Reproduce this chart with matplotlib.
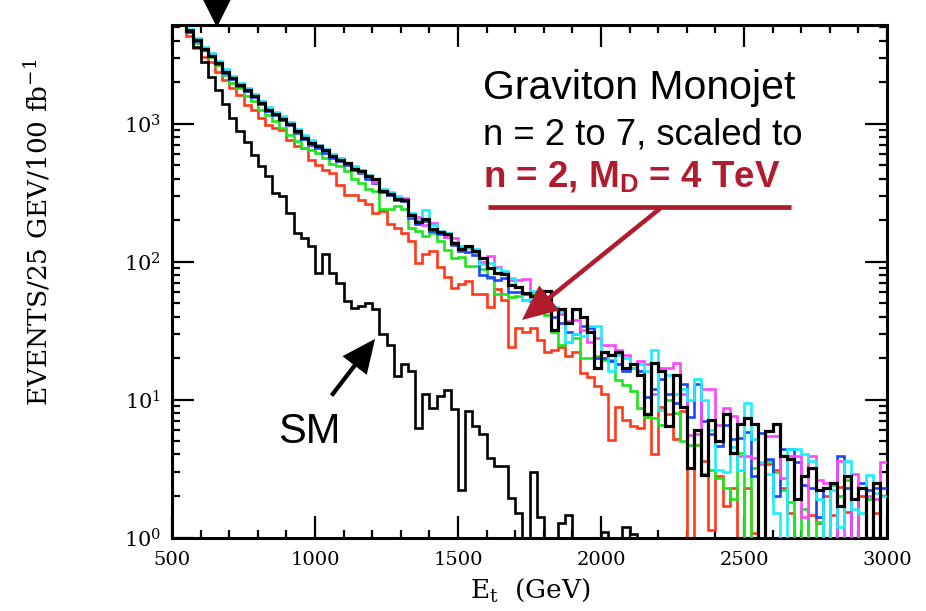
import numpy as np
import matplotlib
matplotlib.use('Agg')
import matplotlib.pyplot as plt
from matplotlib.patches import FancyArrowPatch, ArrowStyle
from matplotlib.ticker import FixedLocator, MultipleLocator, LogLocator, NullFormatter

plt.rcParams['font.family'] = 'DejaVu Serif'
plt.rcParams['mathtext.fontset'] = 'dejavuserif'

# 25 GeV bins from 500 to 3000 GeV
bin_lo = 500
bin_w = 25
n_bins = 100

x_ticks = [500, 1000, 1500, 2000, 2500, 3000]
y_ticks = [1, 10, 100, 1000]
y_ticklabels = [r'$\mathregular{10^{0}}$', r'$\mathregular{10^{1}}$',
                r'$\mathregular{10^{2}}$', r'$\mathregular{10^{3}}$']

# graviton monojet, n = 2..7 scaled to n=2, MD=4 TeV (events / 25 GeV / 100 fb-1)
gr_black = [6800, 5600, 4700, 4050, 3480, 3120, 2750, 2390, 2140, 1910,
            1760, 1580, 1410, 1260, 1175, 1087, 995, 881, 788, 725,
            686, 640, 582, 545, 515, 472, 452, 416, 395, 325,
            310, 285, 282, 217, 194, 205, 172, 164, 160, 137,
            123, 129, 119, 107, 90, 83, 82, 68, 66, 59,
            56, 54, 61, 32, 45, 36, 45, 40, 31, 17,
            22, 21, 22, 17, 18, 15, 7.8, 18.4, 16, 6.4,
            15, 8.9, 3.2, 6.0, 2.85, 7.1, 5.0, 7.8, 4.1, 6.7,
            7.3, 6.6, 0, 5.9, 6.7, 3.9, 3.7, 1.9, 2.8, 3.2,
            2.2, 2.3, 2.5, 1.7, 2.8, 1.9, 2.3, 0, 2.5, 0]

gr_cyan = [7000, 5800, 4850, 4200, 3600, 3250, 2850, 2500, 2230, 1990,
           1830, 1640, 1470, 1320, 1220, 1130, 1030, 920, 830, 760,
           700, 655, 600, 560, 520, 490, 462, 425, 398, 335,
           320, 300, 282, 226, 200, 238, 185, 168, 162, 140,
           130, 128, 123, 96, 98, 90, 85, 76, 65, 53,
           61, 53, 50, 47, 44, 26, 30, 29, 34, 34,
           22, 16, 21, 20, 17, 18, 16, 23, 8.4, 15,
           11, 12, 10, 14, 10, 6.0, 3.1, 3.0, 4.5, 3.1,
           9.4, 5.2, 3.5, 2.9, 1.5, 0, 4.4, 4.4, 4.0, 3.6,
           1.9, 0, 2.2, 1.2, 3.6, 1.6, 1.5, 2.85, 2.1, 2.0]

gr_magenta = [7100, 5700, 4800, 4150, 3550, 3200, 2800, 2450, 2200, 1950,
              1800, 1620, 1450, 1300, 1200, 1110, 1010, 900, 810, 745,
              705, 645, 595, 555, 520, 485, 450, 420, 380, 330,
              315, 295, 290, 215, 210, 185, 190, 165, 150, 148,
              128, 125, 118, 100, 110, 92, 84, 74, 74, 75,
              60, 55, 50, 45, 42, 37, 38, 32, 26, 28,
              25, 25, 23, 21, 17, 19, 18, 11, 17, 17,
              18.4, 11, 5.5, 5.6, 12, 12, 6.5, 8.7, 7.6, 3.9,
              3.9, 3.8, 3.4, 5.4, 5.4, 2.7, 3.9, 3.9, 1.4, 3.9,
              2.6, 2.5, 0, 3.6, 0, 2.9, 0, 2.0, 1.9, 3.5]

gr_blue = [6700, 5500, 4650, 4000, 3450, 3080, 2700, 2350, 2100, 1880,
           1720, 1550, 1390, 1240, 1150, 1070, 975, 860, 770, 705,
           665, 615, 560, 535, 500, 462, 440, 400, 370, 318,
           305, 280, 275, 208, 188, 198, 168, 160, 150, 133,
           120, 118, 112, 80, 78, 74, 76, 60, 60, 58,
           52, 50, 48, 40, 36, 31, 30, 34, 33, 20,
           20, 19, 18, 16, 17, 16, 10.5, 12, 14, 11,
           9.5, 13, 7.5, 13, 7.0, 5.6, 4.6, 6.5, 5.2, 5.3,
           5.8, 2.8, 5.7, 3.7, 2.0, 4.4, 4.4, 3.5, 2.4, 2.3,
           1.4, 2.3, 0, 3.9, 2.3, 0, 2.5, 2.2, 2.3, 2.3]

gr_green = [6500, 5400, 4600, 3830, 3430, 3070, 2670, 2260, 1970, 1810,
            1580, 1450, 1260, 1160, 1040, 930, 832, 745, 667, 649,
            614, 567, 507, 493, 454, 395, 373, 334, 325, 239,
            240, 253, 239, 176, 166, 153, 162, 141, 122, 107,
            109, 93, 93, 88, 76, 58, 58, 55, 56, 53,
            58, 49, 41, 31, 25, 26, 28, 20, 20, 20.6,
            19.5, 19.5, 13.9, 12.8, 11.5, 8.7, 7.5, 7.4, 6.5, 10,
            8, 5, 4.7, 4.7, 2.9, 3.1, 2.7, 2.3, 1.9, 4.1,
            0, 3.2, 0, 3.6, 3.0, 2.2, 1.8, 0, 1.6, 0,
            1.3, 0, 2.4, 2.0, 2.6, 0, 2.3, 1.9, 0, 0]

gr_red = [6200, 5300, 4300, 3520, 3070, 2820, 2390, 2080, 1810, 1620,
          1370, 1260, 1100, 984, 931, 905, 766, 686, 667, 549,
          505, 465, 440, 358, 303, 303, 282, 260, 226, 232,
          186, 176, 162, 141, 97, 114, 119, 91, 77, 64,
          69, 73, 58, 58, 47, 63, 53, 24, 33, 31,
          33, 27, 22, 23, 24, 20.6, 22, 15.6, 14.7, 12.5,
          11, 5.1, 8.9, 7.1, 6.4, 6.2, 7.5, 4.0, 8.9, 7.8,
          5.2, 8.2, 0, 4.7, 3.6, 1.13, 2.8, 1.7, 2.3, 0,
          2.3, 1.07, 0, 3.4, 3.1, 2.3, 1.5, 0, 0, 1.46,
          1.27, 2.0, 1.46, 2.34, 1.54, 0, 2.0, 0, 1.5, 0]

sm = [6500, 5600, 4780, 3620, 2820, 2200, 1760, 1395, 1100, 890,
      736, 597, 492, 416, 315, 298, 226, 162, 149, 130,
      83, 113, 83, 70, 52, 46, 48, 50, 45, 30,
      25, 14.9, 18.1, 16.2, 6.2, 10.9, 8.7, 10.7, 11.8, 8.5,
      2.2, 8.3, 6.4, 5.6, 3.76, 3.3, 3.3, 1.93, 1.51, 0,
      3.0, 1.4, 0, 0, 1.28, 1.46, 0, 0, 0, 0,
      1.1, 0, 0, 1.2, 1.06, 0, 0, 0, 0, 0,
      0, 0, 0, 0, 0, 0, 0, 0, 0, 0,
      0, 0, 0, 0, 0, 0, 0, 0, 0, 0,
      0, 0, 0, 0, 0, 0, 0, 0, 0, 0]

edges = bin_lo + bin_w * np.arange(n_bins + 1)

fig = plt.figure(figsize=(9.26, 6.11), dpi=100)
ax = fig.add_axes([172 / 926, 1 - 537.5 / 611, 715 / 926, 512.5 / 611])
ax.set_yscale('log', nonpositive='clip')


def draw(vals, color, lw, z):
    v = np.asarray(vals, dtype=float)
    v = np.where(v > 0, v, 1e-3)   # empty bins fall off the bottom
    ax.stairs(v, edges, baseline=None, color=color, lw=lw, zorder=z)


draw(gr_red, '#ff3a1a', 1.9, 2)
draw(gr_green, '#1ee61e', 1.9, 3)
draw(gr_blue, '#1a46ff', 1.9, 4)
draw(gr_magenta, '#ff45ff', 1.9, 5)
draw(gr_cyan, '#1aeeff', 1.9, 6)
draw(gr_black, 'black', 2.3, 7)
draw(sm, 'black', 1.9, 7)

ax.set_xlim(500, 3000)
ax.set_ylim(1, 5200)

ax.xaxis.set_major_locator(FixedLocator(x_ticks))
ax.xaxis.set_minor_locator(MultipleLocator(100))
ax.yaxis.set_major_locator(FixedLocator(y_ticks))
ax.yaxis.set_minor_locator(LogLocator(base=10, subs=np.arange(2, 10)))
ax.yaxis.set_minor_formatter(NullFormatter())
ax.set_xticklabels([str(t) for t in x_ticks])
ax.set_yticklabels(y_ticklabels)

ax.tick_params(which='both', direction='in', top=True, right=True, width=1.6)
ax.tick_params(which='major', length=16, labelsize=14)
ax.tick_params(which='minor', length=6)
ax.tick_params(axis='x', which='major', pad=10)
ax.tick_params(axis='y', which='major', pad=8, labelsize=15)
for s in ax.spines.values():
    s.set_linewidth(2.2)

fig.text(38 / 926, 1 - 232 / 611, r'EVENTS/25 GEV/100 fb$^{\mathregular{-1}}$',
         rotation=90, ha='center', va='center', fontsize=19)
fig.text(530 / 926, 1 - 590 / 611, r'E$_{\mathregular{t}}$  (GeV)',
         ha='center', va='center', fontsize=19)

dark_red = '#b01c2e'
sans = 'Liberation Sans'
ax.text(1587, 1503, 'Graviton Monojet', fontsize=29.5, family=sans, va='baseline')
ax.text(1587, 709, 'n = 2 to 7, scaled to', fontsize=26.3, family=sans, va='baseline')
ax.text(1587, 345, r'n = 2, M$_{\mathregular{D}}$ = 4 TeV', fontsize=26.5,
        family=sans, weight='bold', color=dark_red, va='baseline')
ax.plot([1604, 2666], [251, 251], color=dark_red, lw=3.4, solid_capstyle='butt', zorder=8)

head = ArrowStyle('Simple', head_length=1.1, head_width=1.0, tail_width=0.14)
ax.add_patch(FancyArrowPatch((2215, 251), (1716, 36.7), arrowstyle=head,
                             mutation_scale=23, color=dark_red, lw=0, zorder=9))

ax.text(979, 4.86, 'SM', fontsize=30, family=sans, ha='center', va='baseline')
ax.add_patch(FancyArrowPatch((1052, 10.3), (1216, 28.6), arrowstyle=head,
                             mutation_scale=22, color='black', lw=0, zorder=9))

# marker arrow above the frame
top = ArrowStyle('Simple', head_length=1.0, head_width=1.0, tail_width=0.12)
ax.add_patch(FancyArrowPatch((657, 1.052), (657, 0.99), arrowstyle=top,
                             mutation_scale=20, color='black', lw=0,
                             transform=ax.get_xaxis_transform(), clip_on=False, zorder=9))

fig.savefig('out.png', dpi=100)
